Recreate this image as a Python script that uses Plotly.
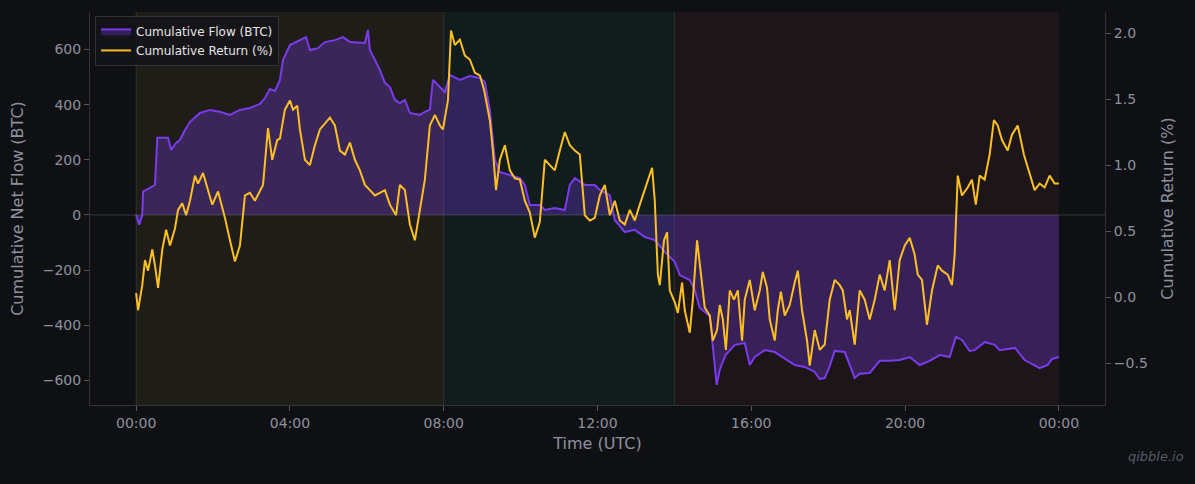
import plotly.graph_objects as go
import pandas as pd

base = pd.Timestamp("2024-01-01")

flow_h = [0.00,0.08,0.16,0.18,0.36,0.49,0.55,0.83,0.91,1.04,1.14,1.27,1.40,1.66,1.92,2.18,2.44,2.70,2.96,3.22,3.35,3.48,3.61,3.74,3.82,4.00,4.26,4.42,4.52,4.73,4.91,5.17,5.38,5.56,5.95,6.03,6.08,6.21,6.34,6.47,6.60,6.73,6.86,6.99,7.12,7.38,7.51,7.64,7.72,7.90,8.03,8.16,8.42,8.68,8.94,9.07,9.20,9.33,9.46,9.72,9.98,10.11,10.24,10.50,10.63,10.89,11.15,11.28,11.41,11.67,11.93,12.06,12.32,12.45,12.71,12.97,13.23,13.49,13.75,14.01,14.14,14.40,14.53,14.66,14.92,15.10,15.18,15.33,15.57,15.83,15.96,16.09,16.35,16.61,16.87,17.13,17.39,17.65,17.78,17.91,18.04,18.17,18.43,18.56,18.69,18.82,19.08,19.34,19.60,19.86,20.12,20.38,20.64,20.90,21.16,21.32,21.48,21.68,21.81,22.07,22.33,22.46,22.86,23.11,23.37,23.50,23.71,23.82,24.00]
flow_v = [0,-35,0,85,98,109,280,280,236,261,272,308,337,370,381,374,363,381,388,403,424,457,450,490,562,616,634,645,598,605,627,634,645,627,624,671,598,562,526,479,464,417,406,417,370,363,374,381,490,464,446,508,490,504,497,482,381,200,156,145,134,109,36,36,18,25,18,109,134,109,109,91,72,-18,-62,-54,-80,-91,-134,-170,-218,-236,-272,-337,-366,-616,-561,-508,-471,-464,-544,-515,-490,-497,-519,-544,-551,-569,-595,-591,-548,-493,-497,-548,-591,-576,-573,-529,-529,-526,-515,-544,-529,-508,-515,-442,-453,-493,-490,-461,-471,-490,-482,-526,-544,-555,-544,-522,-515]

ret_h = [0.00,0.05,0.16,0.23,0.31,0.42,0.49,0.57,0.68,0.78,0.88,1.01,1.09,1.20,1.30,1.40,1.53,1.61,1.74,1.87,1.98,2.13,2.31,2.44,2.57,2.70,2.83,2.96,3.09,3.30,3.43,3.54,3.67,3.74,3.87,4.00,4.08,4.19,4.26,4.39,4.52,4.65,4.78,5.04,5.17,5.30,5.43,5.56,5.69,5.82,5.95,6.08,6.21,6.34,6.47,6.60,6.76,6.86,6.99,7.12,7.25,7.38,7.51,7.64,7.77,7.90,7.98,8.11,8.19,8.29,8.42,8.55,8.68,8.81,8.94,9.05,9.13,9.20,9.28,9.36,9.46,9.59,9.72,9.85,9.98,10.11,10.24,10.37,10.50,10.63,10.76,10.89,11.02,11.15,11.28,11.41,11.54,11.67,11.80,11.93,12.06,12.19,12.32,12.45,12.58,12.71,12.84,12.97,13.10,13.23,13.42,13.49,13.57,13.62,13.73,13.81,13.88,14.01,14.09,14.20,14.27,14.40,14.48,14.59,14.66,14.79,14.92,15.00,15.11,15.18,15.26,15.34,15.44,15.55,15.65,15.76,15.83,15.96,16.09,16.22,16.30,16.41,16.48,16.61,16.69,16.77,16.87,17.00,17.13,17.21,17.32,17.45,17.52,17.65,17.78,17.91,18.04,18.17,18.30,18.38,18.49,18.56,18.69,18.82,18.95,19.08,19.21,19.34,19.47,19.60,19.73,19.86,19.99,20.12,20.25,20.33,20.44,20.57,20.70,20.85,20.96,21.11,21.22,21.29,21.37,21.48,21.63,21.74,21.84,21.94,22.07,22.20,22.31,22.41,22.52,22.67,22.78,22.93,23.09,23.25,23.37,23.50,23.63,23.76,23.89,24.00]
ret_v = [0.03,-0.10,0.09,0.28,0.20,0.36,0.24,0.07,0.36,0.51,0.39,0.52,0.66,0.71,0.62,0.73,0.92,0.86,0.94,0.81,0.70,0.80,0.60,0.43,0.27,0.39,0.77,0.79,0.73,0.85,1.28,1.04,1.19,1.20,1.42,1.49,1.42,1.45,1.27,1.04,1.00,1.15,1.27,1.36,1.30,1.11,1.08,1.17,1.04,0.96,0.85,0.81,0.77,0.79,0.81,0.70,0.62,0.85,0.81,0.55,0.43,0.66,0.89,1.30,1.38,1.30,1.27,1.49,2.02,1.91,1.95,1.83,1.80,1.70,1.68,1.57,1.45,1.34,1.11,0.81,1.04,1.15,0.96,0.90,0.89,0.73,0.64,0.45,0.57,1.04,1.00,0.96,1.11,1.25,1.15,1.11,1.08,0.62,0.58,0.60,0.77,0.85,0.62,0.73,0.58,0.55,0.66,0.58,0.70,0.81,0.98,0.73,0.17,0.09,0.43,0.49,0.05,-0.04,-0.12,0.11,-0.10,-0.27,-0.02,0.43,0.24,-0.08,-0.14,-0.33,-0.25,-0.06,-0.17,-0.40,0.05,-0.02,0.05,-0.33,-0.02,0.13,-0.10,0.05,0.19,0.07,-0.17,-0.33,-0.10,0.04,-0.14,-0.06,0.11,0.20,-0.10,-0.33,-0.52,-0.25,-0.40,-0.36,-0.02,0.13,0.09,0.05,-0.17,-0.10,-0.36,0.05,-0.02,-0.17,-0.02,0.17,0.05,0.28,-0.10,0.28,0.39,0.45,0.32,0.17,0.13,-0.21,0.05,0.24,0.20,0.17,0.09,0.32,0.92,0.77,0.83,0.89,0.70,0.92,0.89,1.08,1.34,1.30,1.19,1.11,1.23,1.30,1.08,0.92,0.81,0.86,0.83,0.92,0.86,0.86]

sessions = [(0, 8, "#1f1d18"), (8, 14, "#111c1c"), (14, 24, "#1c1619")]
tick_h = [0, 4, 8, 12, 16, 20, 24]
tick_labels = ["00:00", "04:00", "08:00", "12:00", "16:00", "20:00", "00:00"]

def t(h):
    return base + pd.Timedelta(hours=h)

fig = go.Figure()
fig.add_trace(go.Scatter(x=[t(h) for h in flow_h], y=flow_v, name="Cumulative Flow (BTC)",
                         mode="lines", line=dict(color="#7c3aed", width=2),
                         fill="tozeroy", fillcolor="rgba(124,58,237,0.3)"))
fig.add_trace(go.Scatter(x=[t(h) for h in ret_h], y=ret_v, name="Cumulative Return (%)",
                         mode="lines", line=dict(color="#fbbf24", width=2), yaxis="y2"))

for a, b, c in sessions:
    fig.add_shape(type="rect", xref="x", yref="paper", x0=t(a), x1=t(b), y0=0, y1=1,
                  fillcolor=c, line_width=0, layer="below")
for h in [0, 8, 14]:
    fig.add_shape(type="line", xref="x", yref="paper", x0=t(h), x1=t(h), y0=0, y1=1,
                  line=dict(color="rgba(120,140,120,0.25)", width=1), layer="below")
fig.add_shape(type="line", xref="paper", yref="y", x0=0, x1=1, y0=0, y1=0,
              line=dict(color="rgba(150,150,160,0.3)", width=1))

axcol = "#8e909c"
fig.update_layout(
    width=1195, height=484, paper_bgcolor="#0f1014", plot_bgcolor="#0f1014",
    margin=dict(l=90, r=90, t=12, b=79),
    font=dict(family="DejaVu Sans", color=axcol, size=14),
    xaxis=dict(range=[t(-1.2), t(25.2)], tickvals=[t(h) for h in tick_h], ticktext=tick_labels,
               showgrid=False, zeroline=False, ticks="outside", tickcolor="#555", ticklen=5,
               showline=True, linecolor="#333", title=dict(text="Time (UTC)", font=dict(size=16), standoff=8)),
    yaxis=dict(range=[-689, 736], tickvals=[-600, -400, -200, 0, 200, 400, 600],
               ticktext=["−600", "−400", "−200", "0", "200", "400", "600"],
               showgrid=False, zeroline=False, ticks="outside", tickcolor="#555",
               showline=True, linecolor="#333", title=dict(text="Cumulative Net Flow (BTC)", font=dict(size=16))),
    yaxis2=dict(range=[-0.818, 2.16], overlaying="y", side="right", tickvals=[-0.5, 0, 0.5, 1, 1.5, 2],
                ticktext=["−0.5", "0.0", "0.5", "1.0", "1.5", "2.0"], showgrid=False, zeroline=False,
                ticks="outside", tickcolor="#555", showline=True, linecolor="#333",
                title=dict(text="Cumulative Return (%)", font=dict(size=16))),
    legend=dict(x=0.005, y=0.99, xanchor="left", yanchor="top", bgcolor="rgba(20,21,26,0.9)",
                bordercolor="#333", borderwidth=1, font=dict(color="#e5e5e5", size=12)),
    showlegend=True,
)
fig.add_annotation(text="<i>qibble.io</i>", xref="paper", yref="paper", x=1.08, y=-0.155,
                   xanchor="right", showarrow=False, font=dict(color="#555a66", size=13))
fig.write_html("out.html", config={"displayModeBar": False})
with open("out.html") as f:
    html = f.read()
html = html.replace("<body>", '<body style="margin:0;background:#0f1014">', 1)
with open("out.html", "w") as f:
    f.write(html)
